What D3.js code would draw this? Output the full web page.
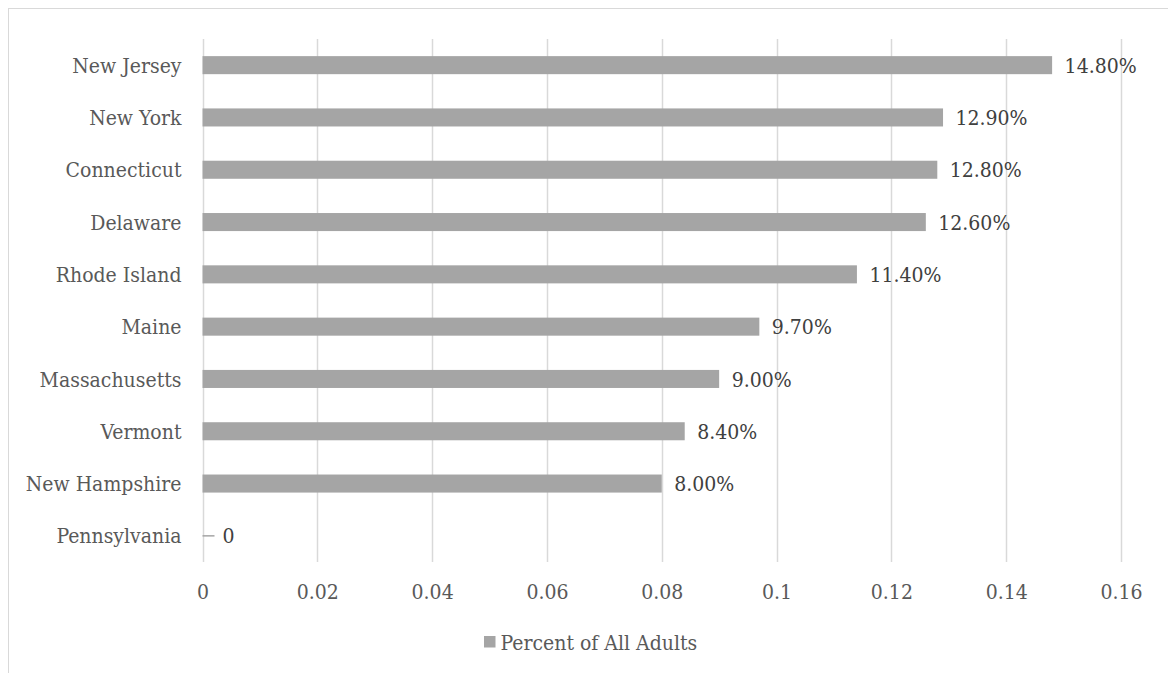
<!DOCTYPE html>
<html>
<head>
<meta charset="utf-8">
<script src="https://cdn.jsdelivr.net/npm/d3@7"></script>
<style>
  html, body { margin: 0; padding: 0; background: #fff; }
  svg { display: block; }
  svg text { font-family: "DejaVu Serif Condensed", "DejaVu Serif", serif; font-stretch: condensed; }
</style>
</head>
<body>
<svg id="chart" width="1168" height="673"></svg>
<script>
// Share of all adults, by state (top to bottom as drawn)
const states = ["New Jersey", "New York", "Connecticut", "Delaware", "Rhode Island",
                "Maine", "Massachusetts", "Vermont", "New Hampshire", "Pennsylvania"];
const percentAdults = [0.148, 0.129, 0.128, 0.126, 0.114, 0.097, 0.090, 0.084, 0.080, 0];
const valueLabels = ["14.80%", "12.90%", "12.80%", "12.60%", "11.40%",
                     "9.70%", "9.00%", "8.40%", "8.00%", "0"];
const xTicks = [0, 0.02, 0.04, 0.06, 0.08, 0.1, 0.12, 0.14, 0.16];
const seriesName = "Percent of All Adults";

const svg = d3.select("#chart");
const W = 1168, H = 673;
const fontSize = 21;

// outer chart frame (runs past the right and bottom edges)
svg.append("rect")
  .attr("x", 8.5).attr("y", 8.5)
  .attr("width", W + 20).attr("height", H + 20)
  .attr("fill", "#fff").attr("stroke", "#d9d9d9").attr("stroke-width", 1);

const plot = { left: 202.5, right: 1121, top: 39, bottom: 562 };

const x = d3.scaleLinear().domain([0, 0.16]).range([plot.left, plot.right]);
const y = d3.scaleBand().domain(states).range([plot.top, plot.bottom]).paddingInner(0.655).paddingOuter(0.3275);

// vertical gridlines
svg.append("g")
  .selectAll("line")
  .data(xTicks)
  .join("line")
  .attr("x1", d => Math.round(x(d)) + 0.5)
  .attr("x2", d => Math.round(x(d)) + 0.5)
  .attr("y1", plot.top).attr("y2", plot.bottom)
  .attr("stroke", "#d9d9d9").attr("stroke-width", 1.5);

// x axis tick labels
const xAxis = d3.axisBottom(x).tickValues(xTicks).tickSize(0).tickPadding(0)
  .tickFormat(d => String(d));
const gx = svg.append("g").attr("transform", `translate(0, ${plot.bottom})`).call(xAxis)
  .attr("font-family", null).attr("font-size", fontSize);
gx.select(".domain").remove();
gx.selectAll("text")
  .attr("y", 37).attr("dy", 0)
  .attr("fill", "#595959");

// y axis category labels
const yAxis = d3.axisLeft(y).tickSize(0).tickPadding(21);
const gy = svg.append("g").attr("transform", `translate(${plot.left}, 0)`).call(yAxis)
  .attr("font-family", null).attr("font-size", fontSize);
gy.select(".domain").remove();
gy.selectAll("text")
  .attr("dy", "0.36em")
  .attr("fill", "#595959");

const rows = states.map((s, i) => ({ state: s, value: percentAdults[i], label: valueLabels[i] }));

// bars
svg.append("g")
  .selectAll("rect")
  .data(rows)
  .join("rect")
  .attr("x", x(0))
  .attr("y", d => y(d.state))
  .attr("width", d => x(d.value) - x(0))
  .attr("height", y.bandwidth())
  .attr("fill", "#a5a5a5");

// marker for zero-valued rows
svg.append("g")
  .selectAll("line")
  .data(rows.filter(d => d.value === 0))
  .join("line")
  .attr("x1", x(0)).attr("x2", x(0) + 12)
  .attr("y1", d => y(d.state) + y.bandwidth() / 2)
  .attr("y2", d => y(d.state) + y.bandwidth() / 2)
  .attr("stroke", "#a5a5a5").attr("stroke-width", 1.5);

// value labels
svg.append("g")
  .attr("font-size", fontSize)
  .selectAll("text")
  .data(rows)
  .join("text")
  .attr("x", d => x(d.value) + (d.value === 0 ? 20 : 12.5))
  .attr("y", d => y(d.state) + y.bandwidth() / 2)
  .attr("dy", "0.36em")
  .attr("fill", "#404040")
  .text(d => d.label);

// legend
const legend = svg.append("g").attr("font-size", fontSize);
legend.append("rect")
  .attr("x", 484).attr("y", 636)
  .attr("width", 11.5).attr("height", 11.5)
  .attr("fill", "#a5a5a5");
legend.append("text")
  .attr("x", 500.5).attr("y", 650)
  .attr("fill", "#595959")
  .text(seriesName);
</script>
</body>
</html>
